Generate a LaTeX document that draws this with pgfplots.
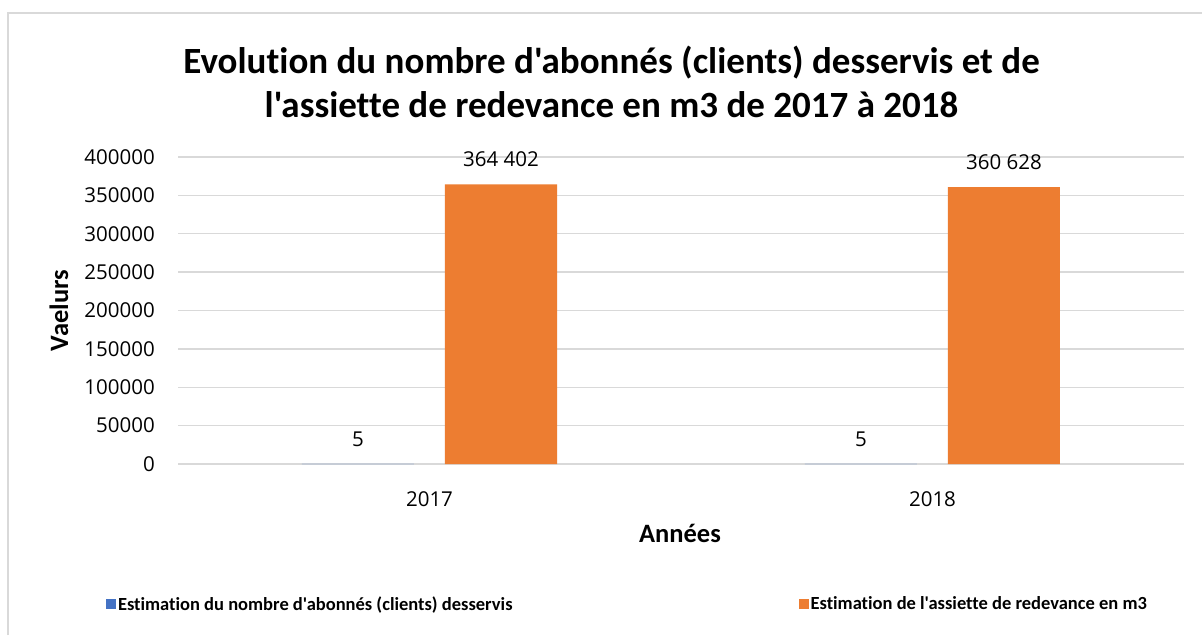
\documentclass[border=0pt]{standalone}
\usepackage{pgfplots}
\pgfplotsset{compat=1.18}
\usepackage{fontspec}
\setmainfont{Carlito}
\newfontfamily\carl{Carlito}[Ligatures=CommonOff]
\newfontfamily\osans{Open Sans}
\definecolor{cblue}{HTML}{4472C4}
\definecolor{corange}{HTML}{ED7D31}
\definecolor{cgrid}{HTML}{D9D9D9}
\begin{document}
\begin{tikzpicture}[x=1pt,y=1pt]
\useasboundingbox (0,0) rectangle (1202,635);
\fill[white] (0,0) rectangle (1202,635);
\draw[cgrid, line width=1.5pt] (8,0) -- (8,622) -- (1202,622);
\begin{axis}[
  at={(178pt,171pt)}, anchor=south west,
  scale only axis, width=1006pt, height=307pt,
  ybar,
  bar width=112pt,
  xmin=-0.5, xmax=1.5, ymin=0, ymax=400000,
  ytick={0,50000,...,400000},
  xtick={0,1}, xticklabels={2017,2018},
  axis line style={draw=none},
  major tick style={draw=none},
  ymajorgrids, grid style={cgrid, line width=1.3pt},
  scaled y ticks=false,
  y tick label style={/pgf/number format/fixed, /pgf/number format/1000 sep={}, /pgf/number format/assume math mode=true,
    font=\osans\fontsize{20.5}{24}\selectfont, inner sep=0pt, xshift=-23pt},
  x tick label style={font=\osans\fontsize{20.5}{24}\selectfont, anchor=center, yshift=-31pt, inner sep=0pt},
  xlabel={Années},
  ylabel={Vaelurs},
  every axis x label/.style={at={(axis description cs:0.499,-0.2248)}, anchor=center, font=\carl\bfseries\fontsize{26.5}{30}\selectfont},
  every axis y label/.style={at={(axis description cs:-0.1183,0.5)}, rotate=90, anchor=center, font=\carl\bfseries\fontsize{26.5}{30}\selectfont},
  title={Evolution du nombre d'abonnés (clients) desservis et de\\l'assiette de redevance en m3 de 2017 à 2018},
  title style={at={(axis description cs:0.431,1.225)}, anchor=center, align=center, font=\carl\bfseries\fontsize{37}{44}\selectfont},
  nodes near coords={\pgfmathprintnumber[fixed,1000 sep={\ },assume math mode=true]{\pgfplotspointmeta}},
  every node near coord/.append style={font=\osans\fontsize{20.5}{24}\selectfont, anchor=center, yshift=25pt, text=black},
  legend columns=2,
  legend image code/.code={\fill[#1] (0pt,-5pt) rectangle (10pt,5pt);},
  legend style={draw=none, fill=none, at={(axis description cs:0.4468,-0.456)}, anchor=center,
    font=\carl\bfseries\fontsize{18.5}{22}\selectfont,
    /tikz/every even column/.append style={column sep=284pt}},
]
\addplot[fill=cblue, draw=none, bar shift=-71.5pt] coordinates {(0,5) (1,5)};
\addplot[fill=corange, draw=none, bar shift=71.5pt] coordinates {(0,364402) (1,360628)};
\legend{Estimation du nombre d'abonnés (clients) desservis, Estimation de l'assiette de redevance en m3}
\end{axis}
\end{tikzpicture}
\end{document}
